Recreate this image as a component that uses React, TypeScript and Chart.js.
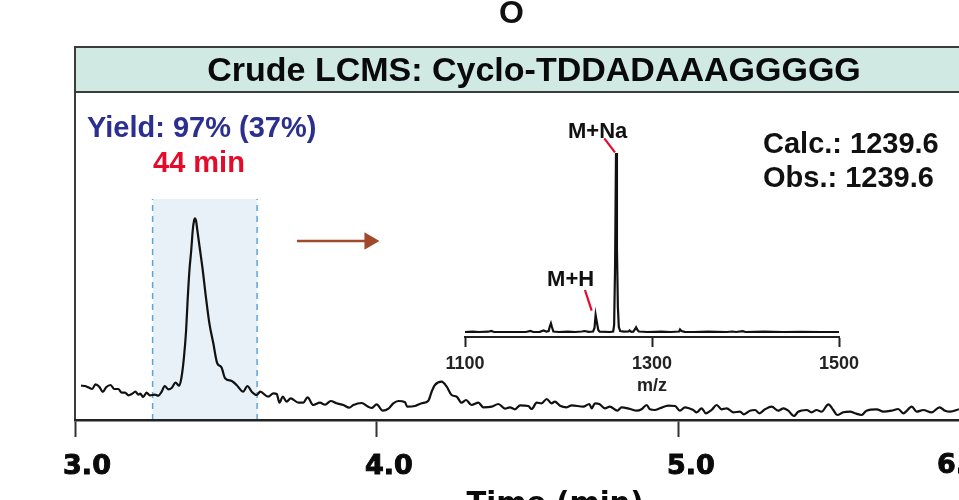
import React, { useEffect, useRef } from "react";
import { Chart, registerables } from "chart.js";

Chart.register(...registerables);

const SANS = "'Liberation Sans', Arial, sans-serif";
const HEAVY = "'DejaVu Sans', sans-serif";

const titleText = "Crude LCMS: Cyclo-TDDADAAAGGGGG";
const xAxisTitle = "Time (min)";
const insetAxisTitle = "m/z";
const yieldText = "Yield: 97% (37%)";
const timeText = "44 min";
const calcText = "Calc.: 1239.6";
const obsText = "Obs.: 1239.6";
const naLabel = "M+Na";
const hLabel = "M+H";
const mainTicks = [3, 4, 5];
const lastTickText = "6.0";
const insetTicks = [1100, 1300, 1500];

const lcTime = [
  3.02, 3.033, 3.044, 3.057, 3.068, 3.081, 3.092, 3.103, 3.118, 3.13, 3.143, 3.155, 3.166, 3.177, 3.188, 3.2, 3.21,
  3.216, 3.226, 3.237, 3.248, 3.265, 3.276, 3.287, 3.297, 3.309, 3.32, 3.333, 3.345, 3.353, 3.361, 3.368, 3.373,
  3.379, 3.385, 3.39, 3.394, 3.397, 3.401, 3.405, 3.414, 3.423, 3.432, 3.445, 3.458, 3.471, 3.485, 3.497, 3.519, 3.535, 3.557,
  3.571, 3.585, 3.602, 3.613, 3.64, 3.657, 3.668, 3.677, 3.688, 3.701, 3.714, 3.74, 3.756, 3.77, 3.789, 3.811, 3.828,
  3.847, 3.866, 3.889, 3.908, 3.922, 3.949, 3.971, 3.982, 3.999, 4.019, 4.038, 4.054, 4.071, 4.093, 4.1, 4.126, 4.148,
  4.17, 4.181, 4.192, 4.214, 4.231, 4.247, 4.264, 4.28, 4.295, 4.313, 4.336, 4.352, 4.38, 4.402, 4.424, 4.44, 4.457,
  4.474, 4.501, 4.512, 4.529, 4.545, 4.562, 4.578, 4.589, 4.606, 4.628, 4.645, 4.683, 4.703, 4.711, 4.722, 4.736,
  4.755, 4.771, 4.796, 4.81, 4.838, 4.86, 4.876, 4.893, 4.904, 4.92, 4.937, 4.965, 4.987, 5.003, 5.02, 5.047, 5.059,
  5.075, 5.089, 5.108, 5.125, 5.141, 5.158, 5.18, 5.202, 5.215, 5.235, 5.252, 5.266, 5.285, 5.307, 5.329, 5.346,
  5.362, 5.381, 5.395, 5.423, 5.439, 5.456, 5.472, 5.495, 5.511, 5.524, 5.544, 5.567, 5.583, 5.605, 5.621, 5.655,
  5.677, 5.704, 5.726, 5.743, 5.771, 5.787, 5.809, 5.837, 5.863, 5.881, 5.898, 5.927,
];
const lcSignal = [
  34.3, 34, 32.7, 31, 35.7, 33, 28, 32.7, 35, 31, 31, 27.3, 27.3, 24.7, 26, 28.3, 25.3, 26.3, 23, 27.3, 24.7, 25.3,
  24.3, 28.3, 34, 30.7, 32, 37.3, 34.3, 43.3, 63.3, 90, 120, 150, 170, 190, 199, 201.7, 199, 190, 170, 150, 126.7, 96.7,
  76.7, 56.7, 52.7, 41.7, 39, 35, 28.3, 34, 28.3, 25, 28.3, 23.3, 26.7, 26, 17.3, 23.3, 18.3, 21.7, 17.3, 17.3, 22.7,
  15, 17.3, 15.3, 19, 16.7, 15, 12.3, 15, 17, 13.3, 12, 15.7, 9.3, 11.3, 16.7, 19, 17.7, 13.3, 14, 16.7, 19.3, 28.3,
  35, 38.3, 33.3, 25, 23.3, 17.3, 20, 15, 17.3, 12.7, 13.3, 16, 11.3, 12.7, 10.7, 14.7, 14, 11, 17.3, 16.7, 21, 16.7,
  18.3, 14.3, 12.7, 14.7, 13.3, 16, 11.7, 16.7, 16, 11.7, 13.3, 9.3, 12.7, 11, 9.3, 10.7, 15, 10.7, 10, 11.7, 14.3,
  14, 9.3, 12.7, 10, 7.7, 11.7, 6.7, 10, 15, 10.7, 11.7, 7.7, 8.3, 5.7, 9.3, 10, 6.7, 10.7, 13.3, 9.3, 11.7, 9.3, 4,
  8.3, 10, 7.7, 10, 8.3, 15.7, 10, 5, 7.7, 8.3, 6.7, 5, 9.3, 10.7, 8.3, 9.3, 11, 6.7, 13.3, 8.3, 10, 7.7, 12.7, 9.3,
  8.3, 10.7,
];
const bandTime = [3.257, 3.603];
const bandTop = [221, 221];
const arrowTime = [3.735, 3.975];
const arrowLevel = [179, 179];

const msMz = [
  1100, 1108, 1115, 1125, 1128, 1131, 1150, 1165, 1170, 1173, 1180, 1184, 1187, 1189.5, 1190.5, 1191.9, 1193, 1194.5,
  1200, 1210, 1218, 1225, 1228, 1232, 1237, 1238.5, 1239.7, 1241, 1242.5, 1244, 1255, 1258.5, 1259.5, 1260.5, 1261.5,
  1262.5, 1263.5, 1264.5, 1266, 1270, 1275, 1276, 1278, 1280, 1282, 1283, 1284.5, 1286, 1295, 1310, 1320, 1329, 1330,
  1331.5, 1335, 1345, 1360, 1380, 1386, 1390, 1397, 1400, 1420, 1440, 1460, 1480, 1500,
];
const msIntensity = [
  5, 5.3, 5, 5.3, 6, 5, 5, 5, 6, 5, 5.2, 6.5, 5.5, 6, 10, 13.7, 10, 5.5, 5, 5.3, 5, 5.5, 6, 5.2, 5.5, 9, 22, 15, 7,
  5.3, 5, 5.5, 12, 70, 184, 90, 30, 10, 6, 5.3, 5.5, 6.5, 5.2, 5.3, 8, 9.7, 7, 5.5, 5, 5.3, 5, 5.5, 7.5, 6, 5.2, 5, 5.3,
  5, 5.5, 5, 5.8, 5, 5.3, 5, 5.2, 5, 5,
];
const naLeaderMz = [1249, 1260.4];
const naLeaderLevel = [198.7, 184.7];
const hLeaderMz = [1228.3, 1235.5];
const hLeaderLevel = [47, 26.3];

const zip = (xs: number[], ys: number[]) => xs.map((x, i) => ({ x, y: ys[i] }));

const frame = {
  id: "frame",
  beforeDraw(chart: any) {
    const { ctx, chartArea: a, width } = chart;
    ctx.save();
    ctx.fillStyle = "#d0e9e3";
    ctx.fillRect(a.left, a.top - 46, width, 46);
    ctx.strokeStyle = "#3c3c3c";
    ctx.lineWidth = 2;
    ctx.beginPath();
    ctx.moveTo(a.left, a.top);
    ctx.lineTo(a.left, a.top - 46);
    ctx.lineTo(width, a.top - 46);
    ctx.moveTo(a.left, a.top - 1);
    ctx.lineTo(width, a.top - 1);
    ctx.stroke();
    ctx.restore();
  },
  afterDraw(chart: any) {
    const { ctx } = chart;
    ctx.save();
    ctx.textBaseline = "middle";
    ctx.textAlign = "left";
    ctx.font = `bold 29px ${SANS}`;
    ctx.fillStyle = "#2b2f8f";
    ctx.fillText(yieldText, 87, 129);
    ctx.fillStyle = "#e60a2a";
    ctx.fillText(timeText, 153, 164);
    ctx.fillStyle = "#111";
    ctx.fillText(calcText, 763, 145);
    ctx.fillText(obsText, 763, 179);
    ctx.font = `bold 32px ${SANS}`;
    ctx.fillText("O", 499, 14);
    ctx.fillText("H", 586, -11);
    ctx.font = `bold 27px ${HEAVY}`;
    ctx.fillStyle = "#0a0a0a";
    ctx.strokeStyle = "#0a0a0a";
    ctx.lineWidth = 1;
    ctx.strokeText(lastTickText, 937, 466);
    ctx.fillText(lastTickText, 937, 466);
    ctx.restore();
  },
};

const insetLabels = {
  id: "insetLabels",
  afterDraw(chart: any) {
    const { ctx, scales } = chart;
    ctx.save();
    ctx.font = `bold 22px ${SANS}`;
    ctx.fillStyle = "#111";
    ctx.textAlign = "center";
    ctx.textBaseline = "middle";
    ctx.fillText(naLabel, scales.x.getPixelForValue(1241.9), scales.y.getPixelForValue(205));
    ctx.fillText(hLabel, scales.x.getPixelForValue(1213), scales.y.getPixelForValue(57));
    ctx.restore();
  },
};

export default function App() {
  const mainRef = useRef<HTMLCanvasElement>(null);
  const insetRef = useRef<HTMLCanvasElement>(null);

  useEffect(() => {
    document.body.style.margin = "0";
    const main = new Chart(mainRef.current!, {
      type: "line",
      plugins: [frame],
      data: {
        datasets: [
          {
            label: "Collected fraction",
            data: zip(bandTime, bandTop),
            borderWidth: 0,
            pointRadius: 0,
            fill: "origin",
            backgroundColor: "#e8f1f8",
            order: 5,
          },
          {
            label: "Fraction start",
            data: [
              { x: bandTime[0], y: 0 },
              { x: bandTime[0], y: bandTop[0] },
            ],
            borderColor: "#5aa5d8",
            borderWidth: 1.5,
            borderDash: [6, 5],
            pointRadius: 0,
            order: 4,
          },
          {
            label: "Fraction end",
            data: [
              { x: bandTime[1], y: 0 },
              { x: bandTime[1], y: bandTop[1] },
            ],
            borderColor: "#5aa5d8",
            borderWidth: 1.5,
            borderDash: [6, 5],
            pointRadius: 0,
            order: 3,
          },
          {
            label: "Arrow",
            data: zip(arrowTime, arrowLevel),
            borderColor: "#a0492d",
            backgroundColor: "#a0492d",
            borderWidth: 2.5,
            pointStyle: "triangle",
            pointRotation: 90,
            pointRadius: [0, 10],
            pointBorderWidth: 0,
            order: 2,
          },
          {
            label: "LCMS trace",
            data: zip(lcTime, lcSignal),
            borderColor: "#111",
            borderWidth: 2.2,
            pointRadius: 0,
            cubicInterpolationMode: "monotone",
            order: 1,
          },
        ],
      },
      options: {
        responsive: false,
        animation: false,
        events: [],
        layout: { padding: 0 },
        plugins: {
          legend: { display: false },
          tooltip: { enabled: false },
          title: {
            display: true,
            text: titleText,
            color: "#0a0a0a",
            font: { family: SANS, weight: "bold", size: 34, lineHeight: 1.2 },
            padding: { top: 51.6, bottom: 0.6 },
          },
        },
        scales: {
          x: {
            type: "linear",
            min: 3,
            max: 6.179,
            border: { color: "#222", width: 2.5, z: 1 },
            grid: { drawOnChartArea: false, drawTicks: true, tickLength: 17, tickWidth: 2, tickColor: "#333", z: 1 },
            ticks: {
              stepSize: 1,
              includeBounds: false,
              maxRotation: 0,
              padding: 14,
              labelOffset: 12,
              color: "#0a0a0a",
              textStrokeColor: "#0a0a0a",
              textStrokeWidth: 1,
              font: { family: HEAVY, weight: "bold", size: 27 },
              callback: (v: any) => (mainTicks.includes(v) ? Number(v).toFixed(1) : ""),
            },
            title: {
              display: true,
              text: xAxisTitle,
              color: "#0a0a0a",
              font: { family: HEAVY, weight: "bold", size: 29 },
              padding: { top: 0, bottom: 18 },
            },
            afterFit: (s: any) => {
              s.height = 120;
            },
          },
          y: {
            min: 0,
            max: 327,
            border: { color: "#3c3c3c", width: 2 },
            grid: { display: false },
            ticks: { display: false },
            afterFit: (s: any) => {
              s.width = 75;
            },
          },
          y2: {
            position: "right",
            border: { display: false },
            grid: { display: false },
            ticks: { display: false },
            afterFit: (s: any) => {
              s.width = 33;
            },
          },
        },
      },
    } as any);

    const inset = new Chart(insetRef.current!, {
      type: "line",
      plugins: [insetLabels],
      data: {
        datasets: [
          {
            label: "Mass spectrum",
            data: zip(msMz, msIntensity),
            borderColor: "#111",
            borderWidth: 2.2,
            pointRadius: 0,
            tension: 0,
          },
          {
            label: "M+Na leader",
            data: zip(naLeaderMz, naLeaderLevel),
            borderColor: "#e60a2a",
            borderWidth: 2.2,
            pointRadius: 0,
          },
          {
            label: "M+H leader",
            data: zip(hLeaderMz, hLeaderLevel),
            borderColor: "#e60a2a",
            borderWidth: 2.2,
            pointRadius: 0,
          },
        ],
      },
      options: {
        responsive: false,
        animation: false,
        events: [],
        layout: { padding: { left: 45, right: 31, top: 7, bottom: 0 } },
        plugins: { legend: { display: false }, tooltip: { enabled: false } },
        scales: {
          x: {
            type: "linear",
            min: 1100,
            max: 1500,
            border: { color: "#222", width: 2 },
            grid: { drawOnChartArea: false, drawTicks: true, tickLength: 10, tickWidth: 2, tickColor: "#222" },
            afterBuildTicks: (s: any) => {
              s.ticks = insetTicks.map((value) => ({ value }));
            },
            ticks: {
              maxRotation: 0,
              autoSkip: false,
              padding: 6,
              color: "#222",
              font: { family: SANS, weight: "bold", size: 18 },
              callback: (v: any) => String(v),
            },
            title: {
              display: true,
              text: insetAxisTitle,
              color: "#222",
              font: { family: SANS, weight: "bold", size: 18 },
              padding: { top: 0, bottom: 13 },
            },
            afterFit: (s: any) => {
              s.height = 73;
            },
          },
          y: { display: false, min: 0, max: 220 },
        },
      },
    } as any);

    return () => {
      main.destroy();
      inset.destroy();
    };
  }, []);

  return (
    <div style={{ position: "fixed", left: 0, top: 0, width: 959, height: 500, overflow: "hidden", background: "#fff" }}>
      <canvas ref={mainRef} width={1068} height={540} style={{ position: "absolute", left: 0, top: 0 }} />
      <canvas ref={insetRef} width={450} height={300} style={{ position: "absolute", left: 420, top: 110 }} />
    </div>
  );
}
